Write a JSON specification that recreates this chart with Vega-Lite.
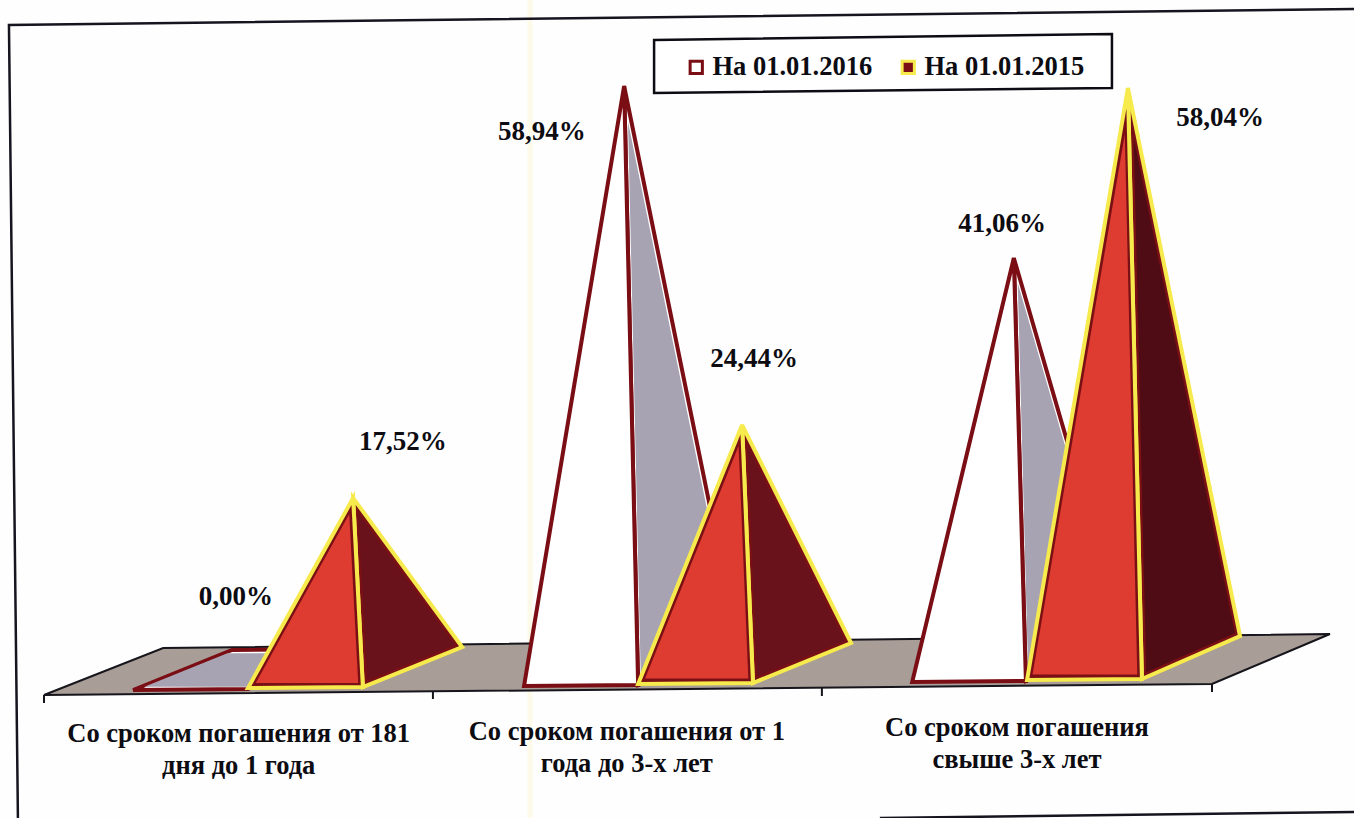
{
"$schema":"https://vega.github.io/schema/vega-lite/v6.json",
"width":1354,"height":818,"padding":0,"autosize":{"type":"none"},
"background":"#fffefe",
"config":{"view":{"stroke":null},"font":"Liberation Serif"},
"datasets":{
"paperFold":[{"x":1.248,"y":-15.612,"y2":67.857}],
"frame":[
{"part":"top-left","n":0,"x":3.365,"y":66.939},
{"part":"top-left","n":1,"x":-0.09,"y":65.306},
{"part":"top-left","n":2,"x":-0.067,"y":-15.612},
{"part":"bottom","n":0,"x":2.147,"y":-15.612},
{"part":"bottom","n":1,"x":3.365,"y":-15.0}
],
"floorPlane":[
{"n":0,"x":0,"y":-3.061},
{"n":1,"x":3.0,"y":-1.939},
{"n":2,"x":3.303,"y":3.163},
{"n":3,"x":0.306,"y":1.735}
],
"ticks":[
{"x":0,"y":-3.061,"y2":-3.878},
{"x":0.999,"y":-2.755,"y2":-3.469},
{"x":1.998,"y":-2.347,"y2":-3.163},
{"x":3.0,"y":-1.939,"y2":-2.755}
],
"keyBox":[
{"n":0,"x":1.567,"y":63.776},
{"n":1,"x":2.743,"y":64.388},
{"n":2,"x":2.743,"y":58.878},
{"n":3,"x":1.567,"y":58.367}
],
"faces":[
{"poly":"a16","paint":"На 01.01.2016","n":0,"x":0.229,"floor":-2.551,"value":0},
{"poly":"a16","paint":"На 01.01.2016","n":1,"x":0.524,"floor":-2.449,"value":0},
{"poly":"a16","paint":"На 01.01.2016","n":2,"x":0.778,"floor":1.633,"value":0},
{"poly":"a16","paint":"На 01.01.2016","n":3,"x":0.483,"floor":1.531,"value":0},
{"poly":"a16i","paint":"side 2016","n":0,"x":0.258,"floor":-2.224,"value":0},
{"poly":"a16i","paint":"side 2016","n":1,"x":0.529,"floor":-2.224,"value":0},
{"poly":"a16i","paint":"side 2016","n":2,"x":0.743,"floor":1.204,"value":0},
{"poly":"a16i","paint":"side 2016","n":3,"x":0.471,"floor":1.204,"value":0},

{"poly":"b16s","paint":"На 01.01.2016","n":0,"x":1.49,"floor":0.142,"value":58.94},
{"poly":"b16s","paint":"На 01.01.2016","n":1,"x":1.526,"floor":-2.041,"value":0},
{"poly":"b16s","paint":"На 01.01.2016","n":2,"x":1.783,"floor":2.041,"value":0},
{"poly":"b16si","paint":"side 2016","n":0,"x":1.5,"floor":-3.511,"value":58.94},
{"poly":"b16si","paint":"side 2016","n":1,"x":1.533,"floor":-1.561,"value":0},
{"poly":"b16si","paint":"side 2016","n":2,"x":1.773,"floor":2.245,"value":0},
{"poly":"b16f","paint":"На 01.01.2016","n":0,"x":1.49,"floor":0.142,"value":58.94},
{"poly":"b16f","paint":"На 01.01.2016","n":1,"x":1.233,"floor":-2.143,"value":0},
{"poly":"b16f","paint":"На 01.01.2016","n":2,"x":1.526,"floor":-2.041,"value":0},

{"poly":"c16s","paint":"На 01.01.2016","n":0,"x":2.491,"floor":0.471,"value":41.06},
{"poly":"c16s","paint":"На 01.01.2016","n":1,"x":2.522,"floor":-1.633,"value":0},
{"poly":"c16s","paint":"На 01.01.2016","n":2,"x":2.777,"floor":2.449,"value":0},
{"poly":"c16si","paint":"side 2016","n":0,"x":2.501,"floor":-2.08,"value":41.06},
{"poly":"c16si","paint":"side 2016","n":1,"x":2.528,"floor":-1.184,"value":0},
{"poly":"c16si","paint":"side 2016","n":2,"x":2.767,"floor":2.653,"value":0},
{"poly":"c16f","paint":"На 01.01.2016","n":0,"x":2.491,"floor":0.471,"value":41.06},
{"poly":"c16f","paint":"На 01.01.2016","n":1,"x":2.23,"floor":-1.735,"value":0},
{"poly":"c16f","paint":"На 01.01.2016","n":2,"x":2.522,"floor":-1.633,"value":0},

{"poly":"a15s","paint":"На 01.01.2015","n":0,"x":0.794,"floor":-0.479,"value":17.52},
{"poly":"a15s","paint":"На 01.01.2015","n":1,"x":0.819,"floor":-2.245,"value":0},
{"poly":"a15s","paint":"На 01.01.2015","n":2,"x":1.074,"floor":1.837,"value":0},
{"poly":"a15si","paint":"side 2015","n":0,"x":0.807,"floor":-2.01,"value":17.52},
{"poly":"a15si","paint":"side 2015","n":1,"x":0.83,"floor":-1.582,"value":0},
{"poly":"a15si","paint":"side 2015","n":2,"x":1.056,"floor":2.041,"value":0},
{"poly":"a15f","paint":"На 01.01.2015","n":0,"x":0.794,"floor":-0.479,"value":17.52},
{"poly":"a15f","paint":"На 01.01.2015","n":1,"x":0.524,"floor":-2.347,"value":0},
{"poly":"a15f","paint":"На 01.01.2015","n":2,"x":0.819,"floor":-2.245,"value":0},
{"poly":"a15fi","paint":"front 2015","n":0,"x":0.784,"floor":-2.112,"value":17.52},
{"poly":"a15fi","paint":"front 2015","n":1,"x":0.544,"floor":-1.837,"value":0},
{"poly":"a15fi","paint":"front 2015","n":2,"x":0.807,"floor":-1.837,"value":0},

{"poly":"b15s","paint":"На 01.01.2015","n":0,"x":1.793,"floor":0.05,"value":24.44},
{"poly":"b15s","paint":"На 01.01.2015","n":1,"x":1.821,"floor":-1.837,"value":0},
{"poly":"b15s","paint":"На 01.01.2015","n":2,"x":2.073,"floor":2.245,"value":0},
{"poly":"b15si","paint":"side 2015","n":0,"x":1.807,"floor":-2.093,"value":24.44},
{"poly":"b15si","paint":"side 2015","n":1,"x":1.831,"floor":-1.173,"value":0},
{"poly":"b15si","paint":"side 2015","n":2,"x":2.057,"floor":2.48,"value":0},
{"poly":"b15f","paint":"На 01.01.2015","n":0,"x":1.793,"floor":0.05,"value":24.44},
{"poly":"b15f","paint":"На 01.01.2015","n":1,"x":1.526,"floor":-1.939,"value":0},
{"poly":"b15f","paint":"На 01.01.2015","n":2,"x":1.821,"floor":-1.837,"value":0},
{"poly":"b15fi","paint":"front 2015","n":0,"x":1.784,"floor":-2.093,"value":24.44},
{"poly":"b15fi","paint":"front 2015","n":1,"x":1.544,"floor":-1.378,"value":0},
{"poly":"b15fi","paint":"front 2015","n":2,"x":1.809,"floor":-1.378,"value":0},

{"poly":"c15s","paint":"На 01.01.2015","n":0,"x":2.784,"floor":0.838,"value":58.04},
{"poly":"c15s","paint":"На 01.01.2015","n":1,"x":2.82,"floor":-1.429,"value":0},
{"poly":"c15s","paint":"На 01.01.2015","n":2,"x":3.072,"floor":2.959,"value":0},
{"poly":"c15si","paint":"side 2015 dark","n":0,"x":2.799,"floor":-4.295,"value":58.04},
{"poly":"c15si","paint":"side 2015 dark","n":1,"x":2.831,"floor":-0.735,"value":0},
{"poly":"c15si","paint":"side 2015 dark","n":2,"x":3.059,"floor":3.235,"value":0},
{"poly":"c15f","paint":"На 01.01.2015","n":0,"x":2.784,"floor":0.838,"value":58.04},
{"poly":"c15f","paint":"На 01.01.2015","n":1,"x":2.525,"floor":-1.531,"value":0},
{"poly":"c15f","paint":"На 01.01.2015","n":2,"x":2.82,"floor":-1.429,"value":0},
{"poly":"c15fi","paint":"front 2015","n":0,"x":2.776,"floor":-3.918,"value":58.04},
{"poly":"c15fi","paint":"front 2015","n":1,"x":2.539,"floor":-0.969,"value":0},
{"poly":"c15fi","paint":"front 2015","n":2,"x":2.808,"floor":-0.969,"value":0}
],
"valueLabels":[
{"label":"0,00%","value":0,"x":0.493,"y":6.939},
{"label":"17,52%","value":17.52,"x":0.922,"y":22.755},
{"label":"58,94%","value":58.94,"x":1.279,"y":54.388},
{"label":"24,44%","value":24.44,"x":1.824,"y":31.224},
{"label":"41,06%","value":41.06,"x":2.461,"y":45},
{"label":"58,04%","value":58.04,"x":3.021,"y":55.816}
],
"categories":[
{"label":"Со сроком погашения от 181\nдня до 1 года","x":0.5,"y":-7.85},
{"label":"Со сроком погашения от 1\nгода до 3-х лет","x":1.497,"y":-7.653},
{"label":"Со сроком погашения\nсвыше 3-х лет","x":2.499,"y":-7.245}
]
},
"encoding":{
"x":{"field":"x","type":"quantitative","axis":null,"scale":{"domain":[-0.113,3.3647],"nice":false,"zero":false}},
"y":{"field":"y","type":"quantitative","axis":null,"scale":{"domain":[-15.612,67.857],"nice":false,"zero":false}}
},
"layer":[
{"data":{"name":"paperFold"},
 "mark":{"type":"rule","stroke":"#fefae9","strokeWidth":5},
 "encoding":{"y2":{"field":"y2"}}},
{"data":{"name":"frame"},
 "mark":{"type":"line","stroke":"#15141f","strokeWidth":2.5},
 "encoding":{"detail":{"field":"part"},"order":{"field":"n","type":"quantitative"}}},
{"data":{"name":"floorPlane"},
 "mark":{"type":"line","interpolate":"linear-closed","fill":"#a89d97","stroke":"#17151c","strokeWidth":2},
 "encoding":{"order":{"field":"n","type":"quantitative"}}},
{"data":{"name":"ticks"},
 "mark":{"type":"rule","stroke":"#17151c","strokeWidth":2},
 "encoding":{"y2":{"field":"y2"}}},
{"data":{"name":"keyBox"},
 "mark":{"type":"line","interpolate":"linear-closed","fill":"#ffffff","stroke":"#0c0c14","strokeWidth":2.5},
 "encoding":{"order":{"field":"n","type":"quantitative"}}},
{"data":{"name":"faces"},
 "transform":[{"calculate":"datum.floor + datum.value","as":"y"}],
 "mark":{"type":"line","interpolate":"linear-closed","strokeWidth":4,"strokeJoin":"miter"},
 "encoding":{
  "detail":{"field":"poly"},
  "order":{"field":"n","type":"quantitative"},
  "fill":{"field":"paint","type":"nominal",
   "scale":{"domain":["На 01.01.2016","На 01.01.2015","side 2016","front 2015","side 2015","side 2015 dark"],
            "range":["#ffffff","#7a1015","#a7a3b3","#de3b31","#6a121c","#4f0c14"]},
   "legend":{"values":["На 01.01.2016","На 01.01.2015"],"title":null,"orient":"none","legendX":683,"legendY":54,
     "direction":"horizontal","columns":2,"symbolType":"square","symbolSize":150,"symbolStrokeWidth":3,
     "labelFont":"Liberation Serif","labelFontWeight":"bold","labelFontSize":26.5,"labelColor":"#0c0c12","labelLimit":300,
     "labelOffset":3,"columnPadding":22,"padding":0}},
  "stroke":{"field":"paint","type":"nominal",
   "scale":{"domain":["На 01.01.2016","На 01.01.2015","side 2016","front 2015","side 2015","side 2015 dark"],
            "range":["#7a0e14","#f6ea4c","rgba(0,0,0,0)","rgba(0,0,0,0)","rgba(0,0,0,0)","rgba(0,0,0,0)"]},
   "legend":{"values":["На 01.01.2016","На 01.01.2015"],"title":null,"orient":"none","legendX":683,"legendY":54,
     "direction":"horizontal","columns":2,"symbolType":"square","symbolSize":150,"symbolStrokeWidth":3,
     "labelFont":"Liberation Serif","labelFontWeight":"bold","labelFontSize":26.5,"labelColor":"#0c0c12","labelLimit":300,
     "labelOffset":3,"columnPadding":22,"padding":0}}
 }},
{"data":{"name":"valueLabels"},
 "mark":{"type":"text","font":"Liberation Serif","fontWeight":"bold","fontSize":27,"fill":"#0c0c12","baseline":"middle","align":"center"},
 "encoding":{"text":{"field":"label"}}},
{"data":{"name":"categories"},
 "mark":{"type":"text","font":"Liberation Serif","fontWeight":"bold","fontSize":26.5,"fill":"#0c0c12","baseline":"alphabetic","align":"center","lineBreak":"\n","lineHeight":32},
 "encoding":{"text":{"field":"label"}}}
]
}
